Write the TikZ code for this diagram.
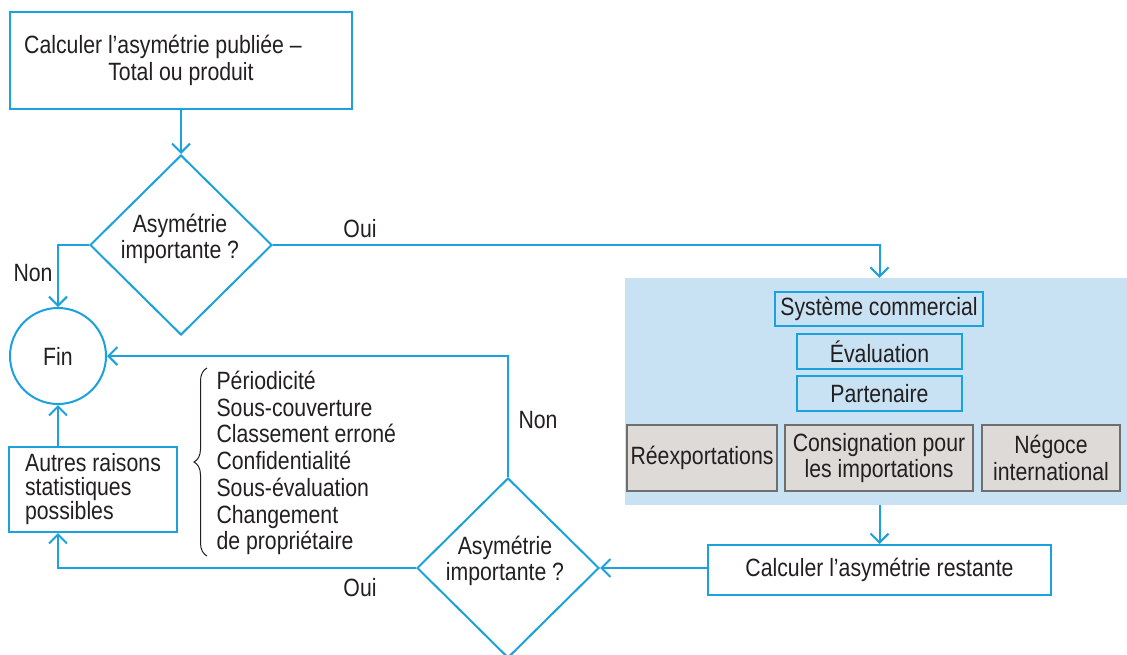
\documentclass[tikz,border=0pt]{standalone}
\usepackage{fontspec}
\setmainfont{Liberation Sans}[FakeStretch=0.85]
\usetikzlibrary{arrows.meta,shapes.geometric,decorations.pathreplacing}
\definecolor{flowblue}{HTML}{1BA1DB}
\definecolor{panelblue}{HTML}{C8E2F4}
\definecolor{boxfill}{HTML}{DEDAD7}
\definecolor{boxgray}{HTML}{6E6E6E}
\definecolor{ink}{HTML}{231F20}
\begin{document}
\begin{tikzpicture}[x=1pt,y=-1pt,
  every node/.style={text=ink, font=\fontsize{25}{26.7}\selectfont},
  flowline/.style={draw=flowblue, line width=2pt},
  arr/.style={flowline, -{Straight Barb[length=9pt,width=18pt]}},
  fbox/.style={draw=flowblue, line width=2pt, rectangle, inner sep=0pt},
  gbox/.style={draw=boxgray, fill=boxfill, line width=1.5pt, rectangle, inner sep=0pt, align=center, minimum height=66pt},
  decision/.style={draw=flowblue, line width=2pt, diamond, minimum width=182pt, minimum height=180pt, inner sep=0pt},
]
\useasboundingbox (0,0) rectangle (1127,655);

% background panel with the checks
\node[fill=panelblue, minimum width=502pt, minimum height=227pt, inner sep=0pt] (panel) at (876,391.5) {};

% start box
\node[fbox, minimum width=342pt, minimum height=97pt, align=center] (top) at (181,60.5)
  {Calculer l’asymétrie publiée –\hspace*{36pt}\\Total ou produit};

% first decision
\node[decision] (d1) at (181,245) {};
\node[align=center] (d1txt) at (180,239) {Asymétrie\\importante ?};

% end circle
\node[circle, draw=flowblue, line width=2pt, minimum size=96pt, inner sep=0pt] (fin) at (58,356) {Fin};

% boxes in the panel
\node[fbox, minimum width=208pt, minimum height=34pt] (sys) at (879,309) {Système commercial};
\node[fbox, minimum width=165pt, minimum height=35pt] (eva) at (879.5,351.5) {Évaluation};
\node[fbox, minimum width=165pt, minimum height=35pt] (par) at (879.5,393.5) {Partenaire};
\node[gbox, minimum width=150pt] (reex) at (702,458) {Réexportations};
\node[gbox, minimum width=188pt] (cons) at (879,458) {Consignation pour\\les importations};
\node[gbox, minimum width=138pt] (neg) at (1051,458) {Négoce\\international};

% remaining asymmetry
\node[fbox, minimum width=343pt, minimum height=50pt] (rest) at (879.5,570) {Calculer l’asymétrie restante};

% second decision
\node[decision] (d2) at (508,568) {};
\node[align=center] (d2txt) at (505,561) {Asymétrie\\importante ?};

% other statistical reasons
\node[fbox, minimum width=168pt, minimum height=85pt, align=left, font=\fontsize{25}{24}\selectfont] (autres) at (93,489.5)
  {Autres raisons\\statistiques\\possibles};
\node[align=left, anchor=west] (raisons) at (213,463)
  {Périodicité\\Sous-couverture\\Classement erroné\\Confidentialité\\Sous-évaluation\\Changement\\de propriétaire};
\draw[decorate, decoration={brace, amplitude=13pt}, draw=ink, line width=1pt] (207,556) -- (207,368);

% labels
\node (lnon1) at (33,273) {Non};
\node (loui1) at (360,229) {Oui};
\node (lnon2) at (538,420) {Non};
\node (loui2) at (360,588) {Oui};

% connectors
\draw[arr] (top.south) -- (d1.north);
\draw[arr] (d1.west) -| (fin.north);
\draw[arr] (d1.east) -| (panel.north -| rest.north);
\draw[arr] (panel.south -| rest.north) -- (rest.north);
\draw[arr] (rest.west |- d2.east) -- (d2.east);
\draw[arr] (d2.north) |- (fin.east);
\draw[arr] (d2.west) -| (autres.south -| fin.south);
\draw[arr] (autres.north -| fin.south) -- (fin.south);
\end{tikzpicture}
\end{document}
